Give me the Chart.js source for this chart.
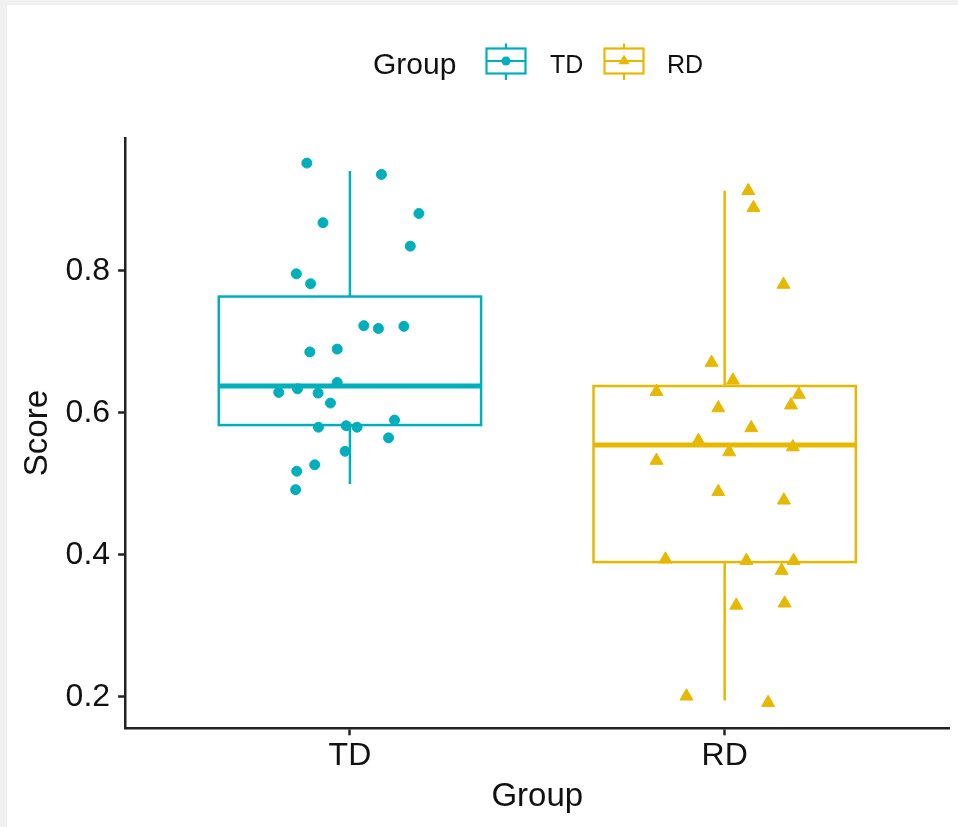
<!DOCTYPE html>
<html>
<head>
<meta charset="utf-8">
<title>Score by Group</title>
<script src="https://cdn.jsdelivr.net/npm/chart.js@4.4.0/dist/chart.umd.min.js"></script>
<style>
  html, body { margin: 0; padding: 0; background: #f0f0f0; }
  #frame { position: absolute; left: 7px; top: 5px; width: 951px; height: 822px; background: #fff; }
  canvas { display: block; }
</style>
</head>
<body>
<div id="frame"><canvas id="grafico" width="951" height="822"></canvas></div>
<script>
// ==========================================
// DATA
// ==========================================
const groups = ['TD', 'RD'];
const groupColors = ['#00AFBB', '#E7B800'];

// box statistics per group (lower whisker, Q1, median, Q3, upper whisker)
const boxLower  = [0.500, 0.195];
const boxQ1     = [0.583, 0.390];
const boxMedian = [0.638, 0.555];
const boxQ3     = [0.764, 0.638];
const boxUpper  = [0.941, 0.913];

// jittered observations (x = group position + jitter)
const tdJitter = [0.885, 1.084, 0.928, 1.184, 1.161, 0.857, 0.895, 1.037, 1.076, 1.144, 0.893, 0.966, 0.966,
                  0.810, 0.860, 0.915, 0.948, 0.916, 0.990, 1.019, 1.119, 1.103, 0.987, 0.906, 0.858, 0.855];
const tdScore  = [0.952, 0.936, 0.868, 0.881, 0.835, 0.796, 0.782, 0.723, 0.719, 0.722, 0.686, 0.690, 0.643,
                  0.629, 0.634, 0.628, 0.614, 0.580, 0.582, 0.580, 0.590, 0.565, 0.546, 0.527, 0.518, 0.492];

const rdJitter = [2.063, 2.077, 2.157, 1.965, 2.022, 1.818, 2.198, 1.983, 2.177, 2.071, 1.930, 2.012,
                  2.182, 1.818, 1.983, 2.158, 1.842, 2.058, 2.184, 2.152, 2.031, 2.160, 1.898, 2.116];
const rdScore  = [0.913, 0.889, 0.781, 0.671, 0.646, 0.630, 0.626, 0.607, 0.611, 0.579, 0.561, 0.545,
                  0.552, 0.533, 0.489, 0.477, 0.394, 0.392, 0.392, 0.378, 0.329, 0.332, 0.201, 0.192];

const yTicks = [0.2, 0.4, 0.6, 0.8];

const FONT = '"Liberation Sans", Arial, Helvetica, sans-serif';
const AXIS_COLOR = '#222';

// ==========================================
// PLUGINS
// ==========================================

// boxes, whiskers and medians, drawn under the points
const boxPlugin = {
    id: 'boxes',
    beforeDatasetsDraw(chart) {
        const { ctx, scales: { x, y } } = chart;
        const half = 0.35;
        ctx.save();
        groups.forEach((g, i) => {
            const pos = i + 1;
            const left = x.getPixelForValue(pos - half);
            const right = x.getPixelForValue(pos + half);
            const mid = x.getPixelForValue(pos);
            const lo = y.getPixelForValue(boxLower[i]);
            const q1 = y.getPixelForValue(boxQ1[i]);
            const med = y.getPixelForValue(boxMedian[i]);
            const q3 = y.getPixelForValue(boxQ3[i]);
            const hi = y.getPixelForValue(boxUpper[i]);

            ctx.strokeStyle = groupColors[i];
            ctx.lineWidth = 2.5;
            ctx.beginPath();
            ctx.moveTo(mid, hi); ctx.lineTo(mid, q3);
            ctx.moveTo(mid, q1); ctx.lineTo(mid, lo);
            ctx.stroke();
            ctx.strokeRect(left, q3, right - left, q1 - q3);

            ctx.lineWidth = 5;
            ctx.beginPath();
            ctx.moveTo(left, med); ctx.lineTo(right, med);
            ctx.stroke();
        });
        ctx.restore();
    }
};

// legend on top: "Group" + box keys
const legendPlugin = {
    id: 'groupLegend',
    afterDraw(chart) {
        const ctx = chart.ctx;
        ctx.save();
        ctx.fillStyle = '#111';
        ctx.textBaseline = 'middle';
        ctx.textAlign = 'left';
        ctx.font = '30px ' + FONT;
        ctx.fillText('Group', 366, 61);

        const keys = [
            { cx: 499, label: 'TD', lx: 543, style: 'circle' },
            { cx: 617, label: 'RD', lx: 660, style: 'triangle' }
        ];
        keys.forEach((k, i) => {
            const w = 39, top = 43.5, bottom = 68.5, mid = 56;
            ctx.strokeStyle = groupColors[i];
            ctx.fillStyle = groupColors[i];
            ctx.lineWidth = 2.2;
            ctx.strokeRect(k.cx - w / 2, top, w, bottom - top);
            ctx.beginPath();
            ctx.moveTo(k.cx, 38.5); ctx.lineTo(k.cx, top);
            ctx.moveTo(k.cx, bottom); ctx.lineTo(k.cx, 75);
            ctx.moveTo(k.cx - w / 2, mid); ctx.lineTo(k.cx + w / 2, mid);
            ctx.stroke();
            ctx.beginPath();
            if (k.style === 'circle') {
                ctx.arc(k.cx, mid, 4.5, 0, Math.PI * 2);
            } else {
                const r = 6.5;
                ctx.moveTo(k.cx, mid - r);
                ctx.lineTo(k.cx + r * 0.866, mid + r * 0.5);
                ctx.lineTo(k.cx - r * 0.866, mid + r * 0.5);
                ctx.closePath();
            }
            ctx.fill();

            ctx.fillStyle = '#111';
            ctx.font = '25px ' + FONT;
            ctx.fillText(k.label, k.lx, 61);
        });
        ctx.restore();
    }
};

// ==========================================
// CHART
// ==========================================
const canvas = document.getElementById('grafico');

new Chart(canvas.getContext('2d'), {
    type: 'scatter',
    data: {
        datasets: [
            {
                label: 'TD',
                data: tdJitter.map((x, i) => ({ x, y: tdScore[i] })),
                pointStyle: 'circle',
                pointRadius: 5,
                borderWidth: 1,
                backgroundColor: groupColors[0],
                borderColor: groupColors[0]
            },
            {
                label: 'RD',
                data: rdJitter.map((x, i) => ({ x, y: rdScore[i] })),
                pointStyle: 'triangle',
                pointRadius: 7.5,
                borderWidth: 1,
                backgroundColor: groupColors[1],
                borderColor: groupColors[1]
            }
        ]
    },
    options: {
        responsive: false,
        animation: false,
        devicePixelRatio: 1,
        layout: { padding: { top: 132.8, right: 6.8, left: 0, bottom: 0 } },
        plugins: {
            legend: { display: false },
            tooltip: { enabled: false }
        },
        scales: {
            x: {
                type: 'linear',
                min: 0.4,
                max: 2.6,
                afterBuildTicks: scale => { scale.ticks = [{ value: 1 }, { value: 2 }]; },
                afterFit: scale => { scale.height = 98.7; },
                ticks: {
                    callback: v => groups[v - 1],
                    font: { family: FONT, size: 32 },
                    color: '#111',
                    padding: 2,
                    autoSkip: false,
                    maxRotation: 0
                },
                grid: { drawOnChartArea: false, drawTicks: true, tickLength: 7, tickWidth: 2.5, tickColor: AXIS_COLOR },
                border: { display: true, color: AXIS_COLOR, width: 2.5 },
                title: {
                    display: true,
                    text: 'Group',
                    font: { family: FONT, size: 33 },
                    color: '#111',
                    padding: { top: 0, bottom: 10.7 }
                }
            },
            y: {
                type: 'linear',
                min: 0.1559,
                max: 0.9876,
                afterBuildTicks: scale => { scale.ticks = yTicks.map(v => ({ value: v })); },
                afterFit: scale => { scale.width = 118.1; },
                ticks: {
                    callback: v => v.toFixed(1),
                    font: { family: FONT, size: 32 },
                    color: '#111',
                    padding: 8
                },
                grid: { drawOnChartArea: false, drawTicks: true, tickLength: 7, tickWidth: 2.5, tickColor: AXIS_COLOR },
                border: { display: true, color: AXIS_COLOR, width: 2.5 },
                title: {
                    display: true,
                    text: 'Score',
                    font: { family: FONT, size: 33 },
                    color: '#111',
                    padding: { top: 11, bottom: 0 }
                }
            }
        }
    },
    plugins: [boxPlugin, legendPlugin]
});
</script>
</body>
</html>
